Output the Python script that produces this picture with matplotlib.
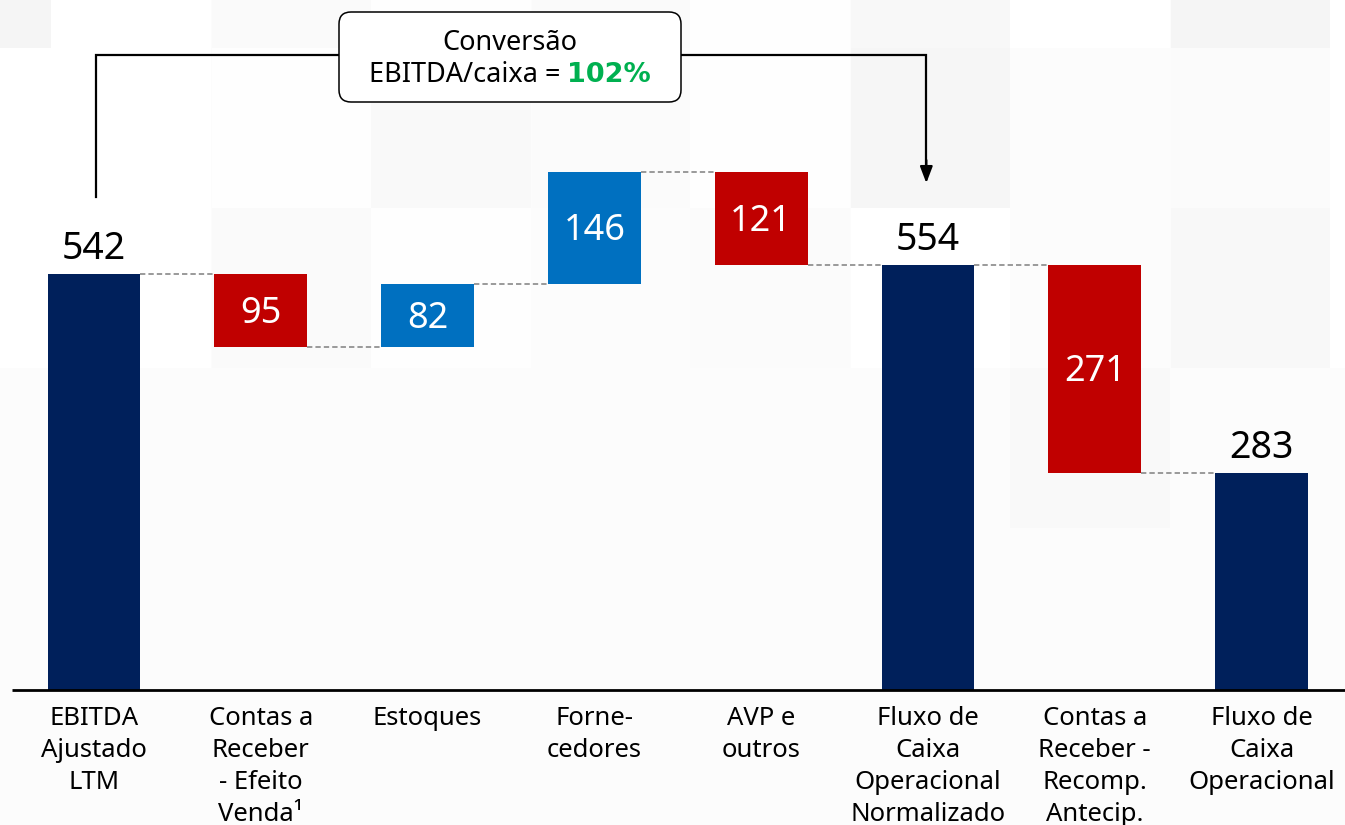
import matplotlib
matplotlib.use("Agg")
import matplotlib.pyplot as plt
from matplotlib.patches import FancyBboxPatch, Rectangle

plt.rcParams['font.family'] = ['Noto Sans', 'DejaVu Sans']

# Waterfall data (R$ milhões)
categories = [
    "EBITDA\nAjustado\nLTM",
    "Contas a\nReceber\n- Efeito\nVenda\u00b9",
    "Estoques",
    "Forne-\ncedores",
    "AVP e\noutros",
    "Fluxo de\nCaixa\nOperacional\nNormalizado",
    "Contas a\nReceber -\nRecomp.\nAntecip.",
    "Fluxo de\nCaixa\nOperacional",
]
values = [542, -95, 82, 146, -121, 554, -271, 283]
is_total = [True, False, False, False, False, True, False, True]
conversion_label = "102%"

NAVY = "#00205B"
RED = "#C00000"
BLUE = "#0070C0"
GREEN = "#00B050"
GREY = "#7F7F7F"

W, H = 1345, 825
fig = plt.figure(figsize=(W / 100, H / 100), dpi=100)
fig.patch.set_facecolor("#fcfcfc")

ax = fig.add_axes([0, 0, 1, 1])
ax.set_facecolor("#fcfcfc")
ax.set_xlim(-0.5635, 7.5)
ax.set_ylim(-175.8, 898.4)
ax.axis("off")

# faint checkered slide backdrop (grey levels per 160px tile)
tile_x = [-109, 51, 212, 371, 532, 690, 851, 1010, 1171, 1330]
tile_y = [-112, 48, 208, 368, 528]
tile_grey = [
    [0.962, 1.00, 0.982, 0.995, 0.982, 0.995, 0.972, 1.00, 0.962, 1.00],
    [1.00, 1.00, 0.997, 0.978, 0.985, 0.997, 0.965, 0.99, 0.985, 1.00],
    [1.00, 1.00, 0.98, 0.997, 0.99, 0.985, 1.00, 0.99, 0.972, 1.00],
    [0.99, 0.99, 0.99, 0.99, 0.99, 0.99, 0.99, 0.978, 0.99, 0.99],
]
for r, row in enumerate(tile_grey):
    for c, g in enumerate(row):
        ax.add_patch(Rectangle((tile_x[c] / W, 1 - (tile_y[r] + 160) / H),
                               160 / W, 160 / H, transform=ax.transAxes,
                               facecolor=(g, g, g), edgecolor="none", zorder=0))

width = 0.557
running = 0
for i, (v, tot) in enumerate(zip(values, is_total)):
    if tot:
        bottom, height = 0, v
        color = NAVY
        running = v
    else:
        if v >= 0:
            bottom, height = running, v
            color = BLUE
        else:
            bottom, height = running + v, -v
            color = RED
        running += v
    ax.bar(i, height, bottom=bottom, width=width, color=color, zorder=3)
    if tot:
        ax.annotate(f"{v}", (i, bottom + height), xytext=(0, 4),
                    textcoords="offset points", ha="center", va="bottom",
                    fontsize=27, color="black", zorder=4)
    else:
        ax.annotate(f"{abs(v)}", (i, bottom + height / 2), xytext=(0, -2.5),
                    textcoords="offset points", ha="center", va="center",
                    fontsize=26, color="white", zorder=4)

# dashed connectors between consecutive bars
running = 0
for i, (v, tot) in enumerate(zip(values, is_total)):
    running = v if tot else running + v
    if i < len(values) - 1:
        ax.plot([i + width / 2, i + 1 - width / 2], [running, running],
                color=GREY, lw=1.1, ls=(0, (3.5, 2)), zorder=2)

# baseline
ax.plot([-0.49, 7.5], [0, 0], color="black", lw=2, zorder=5, solid_capstyle="butt")

# category labels
for i, c in enumerate(categories):
    ax.text(i, -21, c, ha="center", va="top", fontsize=18.5,
            linespacing=1.36, color="black", zorder=4)

# conversion bracket from EBITDA to normalized cash flow
y_top = 827
x_l, x_r = 0.012, 4.99
ax.plot([x_l, x_l, x_r, x_r], [642, y_top, y_top, 672], color="black", lw=1.6,
        zorder=2, solid_joinstyle="miter")
ax.annotate("", xy=(x_r, 660), xytext=(x_r, 690),
            arrowprops=dict(arrowstyle="-|>,head_length=1.0,head_width=0.38",
                            color="black", lw=1.6, shrinkA=0, shrinkB=0))

# callout box (axes fraction == figure fraction here)
bx0, bx1, by0, by1 = 339 / W, 681 / W, 1 - 102 / H, 1 - 12 / H
box = FancyBboxPatch((bx0, by0), bx1 - bx0, by1 - by0, transform=ax.transAxes,
                     boxstyle=f"round,pad=0,rounding_size={12 / W}",
                     mutation_aspect=W / H, facecolor="white", edgecolor="black",
                     lw=1.1, zorder=6)
ax.add_patch(box)
cx = (bx0 + bx1) / 2
ax.text(cx, 1 - 43 / H, "Conversão", ha="center", va="center", fontsize=19.5,
        transform=ax.transAxes, zorder=7)
y2 = 1 - 75 / H
t1 = ax.text(cx, y2, "EBITDA/caixa = ", ha="left", va="center",
             fontsize=19.5, transform=ax.transAxes, zorder=7)
t2 = ax.text(cx, y2, conversion_label, ha="left", va="center", fontsize=19.5,
             fontweight="bold", family=["DejaVu Sans"], color=GREEN,
             transform=ax.transAxes, zorder=7)
fig.canvas.draw()
r = fig.canvas.get_renderer()
w1 = t1.get_window_extent(r).width / W
w2 = t2.get_window_extent(r).width / W
left = cx - (w1 + w2) / 2
t1.set_x(left)
t2.set_x(left + w1)

fig.savefig("out.png", dpi=100, facecolor=fig.get_facecolor())
